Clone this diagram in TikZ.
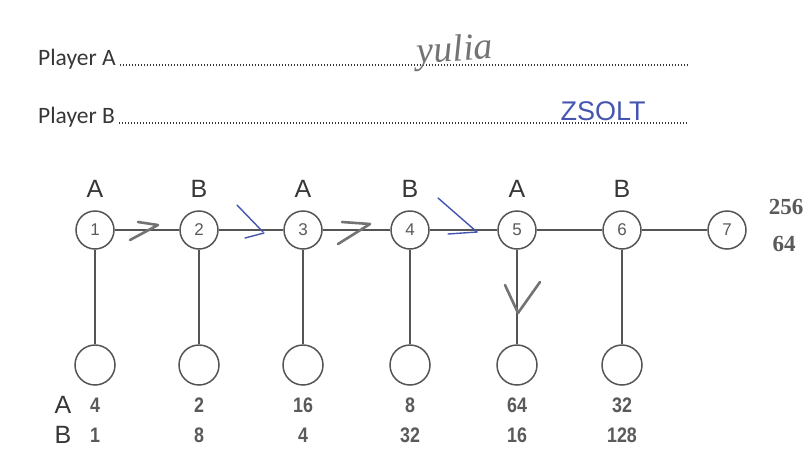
\documentclass[tikz,border=0pt]{standalone}
\usepackage{fontspec}
\setmainfont{Liberation Sans}
\newfontfamily\calib{Carlito}
\newfontfamily\serifb{Liberation Serif}
\newfontfamily\narrowf[FakeStretch=0.85]{Liberation Sans}
\definecolor{lg}{RGB}{85,85,85}
\definecolor{txt}{RGB}{55,55,55}
\definecolor{numc}{RGB}{90,90,90}
\definecolor{pen}{RGB}{70,85,175}
\definecolor{pencil}{RGB}{115,115,115}
\begin{document}
\begin{tikzpicture}[x=1pt,y=-1pt,
  ln/.style={draw=lg, line width=1.7pt},
  dnode/.style={circle, draw=lg, line width=1.5pt, minimum size=38pt, inner sep=0pt,
    font=\fontsize{17}{17}\selectfont, text=numc},
  bnode/.style={circle, draw=lg, line width=1.5pt, minimum size=40pt, inner sep=0pt},
  plab/.style={font=\fontsize{25}{25}\selectfont, text=txt, inner sep=0pt},
  val/.style={font=\narrowf\bfseries\fontsize{21}{21}\selectfont, text=numc, inner sep=0pt},
  head/.style={font=\calib\fontsize{23.5}{23.5}\selectfont, text=txt, anchor=base west, inner sep=0pt},
  dots/.style={draw=txt, line width=1.1pt, dash pattern=on 1.1pt off 1.9pt},
  pencilmark/.style={draw=pencil, line width=2.6pt, line cap=round, line join=round},
  penmark/.style={draw=pen, line width=1.4pt, line cap=round, line join=round}]
\useasboundingbox[fill=white] (0,0) rectangle (805,461);

% header lines
\node[head] (pa) at (38,65) {Player A};
\coordinate (pae) at (688,65);
\draw[dots] ([xshift=4pt]pa.base east) -- (pae);
\node[head] (pb) at (38,123) {Player B};
\coordinate (pbe) at (688,123);
\draw[dots] ([xshift=4pt]pb.base east) -- (pbe);
\node[font=\serifb\itshape\fontsize{38}{38}\selectfont, text=pencil, inner sep=0pt, rotate=4] (hwa) at (455,52) {yulia};
\node[font=\fontsize{27}{27}\selectfont, text=pen, inner sep=0pt] (hwb) at (603,111) {ZSOLT};

% decision nodes
\foreach \i/\x in {1/95,2/199,3/303,4/410,5/517,6/622,7/727}
  \node[dnode] (n\i) at (\x,230) {\i};
% terminal nodes
\foreach \i/\x in {1/95,2/199,3/303,4/410,5/517,6/622}
  \node[bnode] (b\i) at (\x,365) {};

% connectors
\draw[ln] (n1) -- (n2);
\draw[ln] (n2) -- (n3);
\draw[ln] (n3) -- (n4);
\draw[ln] (n4) -- (n5);
\draw[ln] (n5) -- (n6);
\draw[ln] (n6) -- (n7);
\foreach \i in {1,...,6}
  \draw[ln] (n\i) -- (b\i);

% player labels
\foreach \i/\x/\p in {1/95/A,2/199/B,3/303/A,4/410/B,5/517/A,6/622/B}
  \node[plab] (t\i) at (\x,189) {\p};

% payoffs
\node[plab] (ra) at (63,405) {A};
\node[plab] (rb) at (63,435) {B};
\foreach \i/\x/\a/\b in {1/95/4/1,2/199/2/8,3/303/16/4,4/410/8/32,5/517/64/16,6/622/32/128}{
  \node[val] (pa\i) at (\x,405) {\a};
  \node[val] (pb\i) at (\x,435) {\b};
}
\node[font=\serifb\bfseries\fontsize{23}{23}\selectfont, text=numc, inner sep=0pt] (p7a) at (786,207) {256};
\node[font=\serifb\bfseries\fontsize{23}{23}\selectfont, text=numc, inner sep=0pt] (p7b) at (784,244) {64};

% handwritten marks
\draw[pencilmark] (138,222) -- (158,225) -- (130,240);
\draw[pencilmark] (342,222) -- (370,224) -- (338,244);
\draw[penmark] (237,205) -- (263,232);
\draw[penmark] (245,238) -- (264,233);
\draw[penmark] (438,198) -- (477,232);
\draw[penmark] (448,234) -- (477,232);
\draw[pencilmark] (505,285) -- (518,313) -- (540,282);
\end{tikzpicture}
\end{document}
